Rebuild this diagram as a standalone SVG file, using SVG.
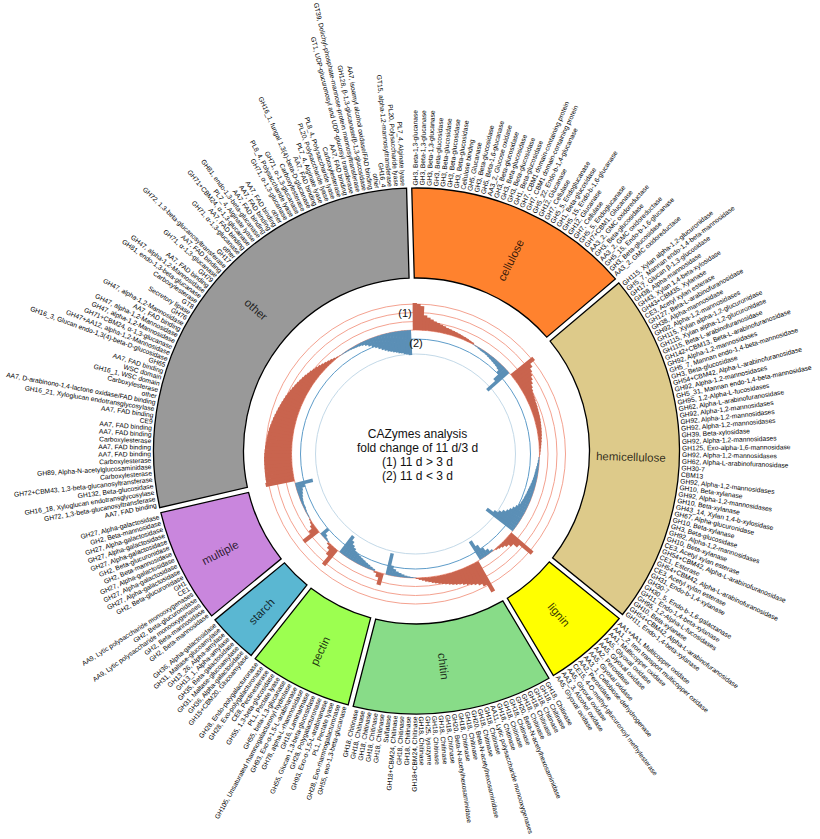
<svg xmlns="http://www.w3.org/2000/svg" width="820" height="839" viewBox="0 0 820 839">
<style>
.sec{stroke:#000;stroke-width:1.3}
.gl{font-family:"Liberation Sans",Arial,sans-serif;font-size:6.7px;fill:#000;dominant-baseline:central}
.l{text-anchor:end}
.sl{font-family:"Liberation Sans",Arial,sans-serif;font-size:11.5px;text-anchor:middle;dominant-baseline:central;fill:#000;fill-opacity:.8}
.ct{font-family:"Liberation Sans",Arial,sans-serif;font-size:12px;text-anchor:middle;fill:#111}
.rb path{stroke:#C9644E;stroke-width:4.3;fill:none}
.bb path{stroke:#5B8FB6;stroke-width:3.5;fill:none}
.gs{fill:none;stroke:#F4A290;stroke-width:1}
</style>
<rect width="820" height="839" fill="#fff"/>
<g id="tracks" transform="translate(415.5,454)">
<g id="grid">
<circle class="gs" r="150"/><circle class="gs" r="141.5"/><circle class="gs" r="132.5"/><circle class="gs" r="124"/>
<circle r="115" fill="none" stroke="#5E9CC9" stroke-width="1"/>
<circle r="100" fill="none" stroke="#C3D9E8" stroke-width="1"/>
</g>
<g id="track1" class="rb">
<path d="M0-124v-27" transform="rotate(-0.28)"/><path d="M0-124v-26" transform="rotate(1.15)"/><path d="M0-124v-24" transform="rotate(2.58)"/><path d="M0-124v-15" transform="rotate(4.01)"/><path d="M0-124v-13" transform="rotate(5.44)"/><path d="M0-124v-11.5" transform="rotate(6.88)"/><path d="M0-124v-10" transform="rotate(8.31)"/><path d="M0-124v-9" transform="rotate(9.74)"/><path d="M0-124v-8" transform="rotate(11.17)"/><path d="M0-124v-7" transform="rotate(12.6)"/><path d="M0-124v-6" transform="rotate(14.03)"/><path d="M0-124v-5.5" transform="rotate(15.47)"/><path d="M0-124v-5" transform="rotate(16.9)"/><path d="M0-124v-4.5" transform="rotate(18.33)"/><path d="M0-124v-4" transform="rotate(19.76)"/><path d="M0-124v-3.5" transform="rotate(21.19)"/><path d="M0-124v-3" transform="rotate(22.62)"/><path d="M0-124v-2.5" transform="rotate(24.05)"/><path d="M0-124v-2" transform="rotate(25.48)"/><path d="M0-124v-1.5" transform="rotate(26.92)"/>
<path d="M0-124v-28" transform="rotate(51.01)"/><path d="M0-124v-22" transform="rotate(52.43)"/><path d="M0-124v-19" transform="rotate(53.85)"/><path d="M0-124v-17" transform="rotate(55.27)"/><path d="M0-124v-15" transform="rotate(56.69)"/><path d="M0-124v-13" transform="rotate(58.11)"/><path d="M0-124v-11" transform="rotate(59.53)"/><path d="M0-124v-9.5" transform="rotate(60.95)"/><path d="M0-124v-8.5" transform="rotate(62.37)"/><path d="M0-124v-8" transform="rotate(63.79)"/><path d="M0-124v-7.5" transform="rotate(65.21)"/><path d="M0-124v-7" transform="rotate(66.63)"/><path d="M0-124v-6.8" transform="rotate(68.05)"/><path d="M0-124v-6.5" transform="rotate(69.47)"/><path d="M0-124v-6.2" transform="rotate(70.89)"/><path d="M0-124v-6" transform="rotate(72.31)"/><path d="M0-124v-5.7" transform="rotate(73.73)"/><path d="M0-124v-5.4" transform="rotate(75.15)"/><path d="M0-124v-5" transform="rotate(76.57)"/><path d="M0-124v-4.6" transform="rotate(77.99)"/><path d="M0-124v-4.2" transform="rotate(79.41)"/><path d="M0-124v-3.8" transform="rotate(80.83)"/><path d="M0-124v-3.3" transform="rotate(82.25)"/><path d="M0-124v-2.8" transform="rotate(83.67)"/><path d="M0-124v-2.3" transform="rotate(85.09)"/><path d="M0-124v-1.8" transform="rotate(86.51)"/><path d="M0-124v-1.3" transform="rotate(87.93)"/><path d="M0-124v-0.9" transform="rotate(89.35)"/><path d="M0-124v-0.5" transform="rotate(90.77)"/>
<path d="M0-124v-29" transform="rotate(130.33)"/><path d="M0-124v-14" transform="rotate(131.79)"/><path d="M0-124v-9" transform="rotate(133.25)"/><path d="M0-124v-6" transform="rotate(134.71)"/><path d="M0-124v-4" transform="rotate(136.18)"/><path d="M0-124v-2.5" transform="rotate(137.64)"/><path d="M0-124v-1.5" transform="rotate(139.1)"/><path d="M0-124v-0.5" transform="rotate(140.56)"/>
<path d="M0-124v-34" transform="rotate(150.51)"/><path d="M0-124v-25" transform="rotate(151.93)"/><path d="M0-124v-22" transform="rotate(153.36)"/><path d="M0-124v-20" transform="rotate(154.78)"/><path d="M0-124v-18.5" transform="rotate(156.2)"/><path d="M0-124v-17" transform="rotate(157.62)"/><path d="M0-124v-15.5" transform="rotate(159.05)"/><path d="M0-124v-14" transform="rotate(160.47)"/><path d="M0-124v-13" transform="rotate(161.89)"/><path d="M0-124v-12" transform="rotate(163.31)"/><path d="M0-124v-11" transform="rotate(164.74)"/><path d="M0-124v-10" transform="rotate(166.16)"/><path d="M0-124v-9" transform="rotate(167.58)"/><path d="M0-124v-8" transform="rotate(169)"/><path d="M0-124v-7" transform="rotate(170.43)"/><path d="M0-124v-6" transform="rotate(171.85)"/><path d="M0-124v-5" transform="rotate(173.27)"/><path d="M0-124v-4" transform="rotate(174.69)"/><path d="M0-124v-3" transform="rotate(176.12)"/><path d="M0-124v-2" transform="rotate(177.54)"/><path d="M0-124v-1" transform="rotate(178.96)"/>
<path d="M0-124v-12" transform="rotate(195.81)"/><path d="M0-124v-5" transform="rotate(197.23)"/><path d="M0-124v-1.5" transform="rotate(198.65)"/>
<path d="M0-124v-20" transform="rotate(219.69)"/><path d="M0-124v-10" transform="rotate(221.06)"/><path d="M0-124v-5" transform="rotate(222.44)"/><path d="M0-124v-2" transform="rotate(223.81)"/>
<path d="M0-124v-18" transform="rotate(231.9)"/><path d="M0-124v-8" transform="rotate(233.3)"/><path d="M0-124v-4" transform="rotate(234.7)"/><path d="M0-124v-2" transform="rotate(236.1)"/><path d="M0-124v-1" transform="rotate(237.5)"/>
<path d="M0-124v-29" transform="rotate(258.31)"/><path d="M0-124v-28" transform="rotate(259.72)"/><path d="M0-124v-28" transform="rotate(261.13)"/><path d="M0-124v-27.8" transform="rotate(262.54)"/><path d="M0-124v-27.7" transform="rotate(263.96)"/><path d="M0-124v-27.6" transform="rotate(265.37)"/><path d="M0-124v-27.6" transform="rotate(266.78)"/><path d="M0-124v-27.5" transform="rotate(268.19)"/><path d="M0-124v-27.3" transform="rotate(269.6)"/><path d="M0-124v-27" transform="rotate(271.01)"/><path d="M0-124v-26.6" transform="rotate(272.42)"/><path d="M0-124v-26.2" transform="rotate(273.83)"/><path d="M0-124v-25.8" transform="rotate(275.25)"/><path d="M0-124v-25.4" transform="rotate(276.66)"/><path d="M0-124v-25" transform="rotate(278.07)"/><path d="M0-124v-24.6" transform="rotate(279.48)"/><path d="M0-124v-24.1" transform="rotate(280.89)"/><path d="M0-124v-23.5" transform="rotate(282.3)"/><path d="M0-124v-22.8" transform="rotate(283.71)"/><path d="M0-124v-22.2" transform="rotate(285.12)"/><path d="M0-124v-21.5" transform="rotate(286.54)"/><path d="M0-124v-20.9" transform="rotate(287.95)"/><path d="M0-124v-20.2" transform="rotate(289.36)"/><path d="M0-124v-19.6" transform="rotate(290.77)"/><path d="M0-124v-18.9" transform="rotate(292.18)"/><path d="M0-124v-18.3" transform="rotate(293.59)"/><path d="M0-124v-17.5" transform="rotate(295)"/><path d="M0-124v-16.7" transform="rotate(296.41)"/><path d="M0-124v-15.9" transform="rotate(297.83)"/><path d="M0-124v-15.1" transform="rotate(299.24)"/><path d="M0-124v-14.3" transform="rotate(300.65)"/><path d="M0-124v-13.5" transform="rotate(302.06)"/><path d="M0-124v-12.6" transform="rotate(303.47)"/><path d="M0-124v-11.8" transform="rotate(304.88)"/><path d="M0-124v-10.9" transform="rotate(306.29)"/><path d="M0-124v-10" transform="rotate(307.7)"/><path d="M0-124v-9" transform="rotate(309.12)"/><path d="M0-124v-8" transform="rotate(310.53)"/><path d="M0-124v-7" transform="rotate(311.94)"/><path d="M0-124v-6" transform="rotate(313.35)"/><path d="M0-124v-5" transform="rotate(314.76)"/><path d="M0-124v-4" transform="rotate(316.17)"/><path d="M0-124v-3" transform="rotate(317.58)"/><path d="M0-124v-2" transform="rotate(319)"/><path d="M0-124v-1" transform="rotate(320.41)"/><path d="M0-124v-0.5" transform="rotate(321.82)"/>
</g>
<g id="track2" class="bb">
<path d="M0-124v0.5" transform="rotate(28.35)"/><path d="M0-124v1" transform="rotate(29.78)"/><path d="M0-124v1.5" transform="rotate(31.21)"/><path d="M0-124v2" transform="rotate(32.64)"/><path d="M0-124v2" transform="rotate(34.07)"/><path d="M0-124v2.5" transform="rotate(35.5)"/><path d="M0-124v3" transform="rotate(36.94)"/><path d="M0-124v3.5" transform="rotate(38.37)"/><path d="M0-124v4" transform="rotate(39.8)"/><path d="M0-124v4.5" transform="rotate(41.23)"/><path d="M0-124v5" transform="rotate(42.66)"/><path d="M0-124v6" transform="rotate(44.09)"/><path d="M0-124v9" transform="rotate(45.52)"/><path d="M0-124v16" transform="rotate(46.96)"/><path d="M0-124v28" transform="rotate(48.39)"/>
<path d="M0-124v1" transform="rotate(92.19)"/><path d="M0-124v1.5" transform="rotate(93.61)"/><path d="M0-124v2" transform="rotate(95.03)"/><path d="M0-124v2.5" transform="rotate(96.45)"/><path d="M0-124v3" transform="rotate(97.87)"/><path d="M0-124v3.3" transform="rotate(99.29)"/><path d="M0-124v3.6" transform="rotate(100.71)"/><path d="M0-124v4" transform="rotate(102.13)"/><path d="M0-124v4.5" transform="rotate(103.55)"/><path d="M0-124v5" transform="rotate(104.97)"/><path d="M0-124v5.5" transform="rotate(106.39)"/><path d="M0-124v6" transform="rotate(107.81)"/><path d="M0-124v6.3" transform="rotate(109.23)"/><path d="M0-124v6.7" transform="rotate(110.65)"/><path d="M0-124v7" transform="rotate(112.07)"/><path d="M0-124v7.5" transform="rotate(113.49)"/><path d="M0-124v8" transform="rotate(114.91)"/><path d="M0-124v9" transform="rotate(116.33)"/><path d="M0-124v11" transform="rotate(117.75)"/><path d="M0-124v13" transform="rotate(119.17)"/><path d="M0-124v15" transform="rotate(120.59)"/><path d="M0-124v17" transform="rotate(122.01)"/><path d="M0-124v20" transform="rotate(123.43)"/><path d="M0-124v23" transform="rotate(124.85)"/><path d="M0-124v27" transform="rotate(126.27)"/><path d="M0-124v34" transform="rotate(127.69)"/>
<path d="M0-124v2" transform="rotate(142.02)"/><path d="M0-124v5" transform="rotate(143.48)"/><path d="M0-124v9" transform="rotate(144.95)"/><path d="M0-124v14" transform="rotate(146.41)"/><path d="M0-124v21" transform="rotate(147.87)"/>
<path d="M0-124v0.5" transform="rotate(180.38)"/><path d="M0-124v1" transform="rotate(181.81)"/><path d="M0-124v1.5" transform="rotate(183.23)"/><path d="M0-124v2" transform="rotate(184.65)"/><path d="M0-124v3" transform="rotate(186.07)"/><path d="M0-124v4" transform="rotate(187.5)"/><path d="M0-124v5" transform="rotate(188.92)"/><path d="M0-124v7" transform="rotate(190.34)"/><path d="M0-124v10" transform="rotate(191.76)"/><path d="M0-124v22" transform="rotate(193.19)"/>
<path d="M0-124v2" transform="rotate(200.07)"/><path d="M0-124v3" transform="rotate(201.49)"/><path d="M0-124v4" transform="rotate(202.9)"/><path d="M0-124v5" transform="rotate(204.32)"/><path d="M0-124v6" transform="rotate(205.74)"/><path d="M0-124v7" transform="rotate(207.16)"/><path d="M0-124v8" transform="rotate(208.58)"/><path d="M0-124v9" transform="rotate(210)"/><path d="M0-124v10" transform="rotate(211.42)"/><path d="M0-124v12" transform="rotate(212.84)"/><path d="M0-124v14" transform="rotate(214.26)"/><path d="M0-124v17" transform="rotate(215.68)"/><path d="M0-124v21" transform="rotate(217.09)"/>
<path d="M0-124v1" transform="rotate(225.19)"/><path d="M0-124v2" transform="rotate(226.56)"/><path d="M0-124v4" transform="rotate(227.94)"/><path d="M0-124v9" transform="rotate(229.31)"/>
<path d="M0-124v0.5" transform="rotate(238.9)"/><path d="M0-124v1" transform="rotate(240.3)"/><path d="M0-124v1" transform="rotate(241.7)"/><path d="M0-124v1.5" transform="rotate(243.1)"/><path d="M0-124v2" transform="rotate(244.5)"/><path d="M0-124v2" transform="rotate(245.9)"/><path d="M0-124v2.5" transform="rotate(247.3)"/><path d="M0-124v3" transform="rotate(248.7)"/><path d="M0-124v4" transform="rotate(250.1)"/><path d="M0-124v5" transform="rotate(251.5)"/><path d="M0-124v6" transform="rotate(252.9)"/><path d="M0-124v9" transform="rotate(254.3)"/><path d="M0-124v18" transform="rotate(255.7)"/>
<path d="M0-124v0.5" transform="rotate(323.23)"/><path d="M0-124v0.8" transform="rotate(324.64)"/><path d="M0-124v1" transform="rotate(326.05)"/><path d="M0-124v1.3" transform="rotate(327.46)"/><path d="M0-124v1.6" transform="rotate(328.87)"/><path d="M0-124v2" transform="rotate(330.29)"/><path d="M0-124v2.4" transform="rotate(331.7)"/><path d="M0-124v2.8" transform="rotate(333.11)"/><path d="M0-124v3.5" transform="rotate(334.52)"/><path d="M0-124v5" transform="rotate(335.93)"/><path d="M0-124v7" transform="rotate(337.34)"/><path d="M0-124v9" transform="rotate(338.75)"/><path d="M0-124v11" transform="rotate(340.17)"/><path d="M0-124v13" transform="rotate(341.58)"/><path d="M0-124v15" transform="rotate(342.99)"/><path d="M0-124v16.5" transform="rotate(344.4)"/><path d="M0-124v18" transform="rotate(345.81)"/><path d="M0-124v19" transform="rotate(347.22)"/><path d="M0-124v20" transform="rotate(348.63)"/><path d="M0-124v21" transform="rotate(350.04)"/><path d="M0-124v22" transform="rotate(351.46)"/><path d="M0-124v22.5" transform="rotate(352.87)"/><path d="M0-124v23.5" transform="rotate(354.28)"/><path d="M0-124v24" transform="rotate(355.69)"/><path d="M0-124v25" transform="rotate(357.1)"/>
</g>
</g>
<g id="track-labels">
<text class="ct" x="405" y="317" style="font-size:11px">(1)</text>
<text class="ct" x="416" y="347" style="font-size:11px">(2)</text>
</g>
<g id="title">
<text class="ct" x="417.5" y="437.7">CAZymes analysis</text>
<text class="ct" x="417.5" y="451.9">fold change of 11 d/3 d</text>
<text class="ct" x="417.5" y="466.1">(1) 11 d &gt; 3 d</text>
<text class="ct" x="417.5" y="480.3">(2) 11 d &lt; 3 d</text>
</g>
<g id="ring" transform="translate(416.5,451)">
<g id="cellulose">
<path class="sec" fill="#FF822E" d="M-4.75,-262.96A263,263 0 0 1 198.89,-172.08L130.25,-113.87A173,173 0 0 0 -2.23,-172.99Z"/>
<text class="sl" transform="rotate(-63.7)" x="213">cellulose</text>
<text class="gl" transform="rotate(-90.26)" x="265.5">GH3, Beta-1,3-glucanase</text>
<text class="gl" transform="rotate(-88.79)" x="265.5">GH3, Beta-1,3-glucanase</text>
<text class="gl" transform="rotate(-87.32)" x="265.5">GH3, Beta-1,3-glucanase</text>
<text class="gl" transform="rotate(-85.84)" x="265.5">GH3, Beta-glucosidase</text>
<text class="gl" transform="rotate(-84.37)" x="265.5">GH3, Beta-glucosidase</text>
<text class="gl" transform="rotate(-82.9)" x="265.5">GH3, Beta-glucosidase</text>
<text class="gl" transform="rotate(-81.42)" x="265.5">GH3, Beta-glucosidase</text>
<text class="gl" transform="rotate(-79.95)" x="265.5">Cellulose binding</text>
<text class="gl" transform="rotate(-78.48)" x="265.5">GH5, Glucanase</text>
<text class="gl" transform="rotate(-77)" x="265.5">GH3, Beta-glucosidase</text>
<text class="gl" transform="rotate(-75.53)" x="265.5">GH5, Beta-1,6-glucanase</text>
<text class="gl" transform="rotate(-74.05)" x="265.5">AA3_2, Glucose oxidase</text>
<text class="gl" transform="rotate(-72.58)" x="265.5">GH3, Beta-glucosidase</text>
<text class="gl" transform="rotate(-71.11)" x="265.5">GH3, Beta-glucosidase</text>
<text class="gl" transform="rotate(-69.63)" x="265.5">GH3, Beta-glucosidase</text>
<text class="gl" transform="rotate(-68.16)" x="265.5">GH1, Beta-glucosidase</text>
<text class="gl" transform="rotate(-66.69)" x="265.5">GH7, CBM1 domain-containing protein</text>
<text class="gl" transform="rotate(-65.21)" x="265.5">GH7, CBM1 domain-containing protein</text>
<text class="gl" transform="rotate(-63.74)" x="265.5">GH5_22, Endo-b-1,4-glucanase</text>
<text class="gl" transform="rotate(-62.27)" x="265.5">GH12, Glucanase</text>
<text class="gl" transform="rotate(-60.79)" x="265.5">GH7, Cellulase</text>
<text class="gl" transform="rotate(-59.32)" x="265.5">GH5_5, Endoglucanase</text>
<text class="gl" transform="rotate(-57.85)" x="265.5">GH1, Beta-glucosidase</text>
<text class="gl" transform="rotate(-56.37)" x="265.5">GH5_15, Endo-b-1,6-glucanase</text>
<text class="gl" transform="rotate(-54.9)" x="265.5">GH12, Glucanase</text>
<text class="gl" transform="rotate(-53.43)" x="265.5">GH7, Cellulase</text>
<text class="gl" transform="rotate(-51.95)" x="265.5">GH5_5, Endoglucanase</text>
<text class="gl" transform="rotate(-50.48)" x="265.5">GH7+CBM1, Glucanase</text>
<text class="gl" transform="rotate(-49.01)" x="265.5">AA3_2, GMC oxidoreductase</text>
<text class="gl" transform="rotate(-47.53)" x="265.5">GH3, Beta-glucosidase</text>
<text class="gl" transform="rotate(-46.06)" x="265.5">AA3_2, GMC oxidoreductase</text>
<text class="gl" transform="rotate(-44.59)" x="265.5">GH5_15, Endo-b-1,6-glucanase</text>
<text class="gl" transform="rotate(-43.11)" x="265.5">GH3, Beta-glucosidase</text>
<text class="gl" transform="rotate(-41.64)" x="265.5">AA3_2, GMC oxidoreductase</text>
</g>
<g id="hemicellulose">
<path class="sec" fill="#DDCA8A" d="M202.25,-168.12A263,263 0 0 1 206.01,163.48L136.07,106.84A173,173 0 0 0 133.61,-109.9Z"/>
<text class="sl" transform="rotate(1.6)" x="214.5">hemicellulose</text>
<text class="gl" transform="rotate(-38.99)" x="265.5">GH115, Xylan alpha-1,2-glucuronidase</text>
<text class="gl" transform="rotate(-37.57)" x="265.5">GH5_7, Mannan endo-1,4-beta-mannosidase</text>
<text class="gl" transform="rotate(-36.15)" x="265.5">GH17, Glucan β-1,3-glucosidase</text>
<text class="gl" transform="rotate(-34.73)" x="265.5">GH38, Alpha-mannosidase</text>
<text class="gl" transform="rotate(-33.31)" x="265.5">GH43, Xylan 1,4-beta-xylosidase</text>
<text class="gl" transform="rotate(-31.89)" x="265.5">GH43+CBM35, Xylanase</text>
<text class="gl" transform="rotate(-30.47)" x="265.5">CE3, Acetyl xylan esterase</text>
<text class="gl" transform="rotate(-29.05)" x="265.5">GH127, Beta-L-arabinofuranosidase</text>
<text class="gl" transform="rotate(-27.63)" x="265.5">GH38, Alpha-mannosidase</text>
<text class="gl" transform="rotate(-26.21)" x="265.5">GH92, Alpha-1,2-mannosidases</text>
<text class="gl" transform="rotate(-24.79)" x="265.5">GH115, Xylan alpha-1,2-glucuronidase</text>
<text class="gl" transform="rotate(-23.37)" x="265.5">GH115, Xylan alpha-1,2-glucuronidase</text>
<text class="gl" transform="rotate(-21.95)" x="265.5">GH115, Beta-L-arabinofuranosidase</text>
<text class="gl" transform="rotate(-20.53)" x="265.5">GH142+CBM13, Beta-L-arabinofuranosidase</text>
<text class="gl" transform="rotate(-19.11)" x="265.5">GH92, Alpha-1,2-mannosidases</text>
<text class="gl" transform="rotate(-17.69)" x="265.5">GH5_7, Mannan endo-1,4-beta-mannosidase</text>
<text class="gl" transform="rotate(-16.27)" x="265.5">GH3, Beta-glucosidase</text>
<text class="gl" transform="rotate(-14.85)" x="265.5">GH54+CBM42, Alpha-L-arabinofuranosidase</text>
<text class="gl" transform="rotate(-13.43)" x="265.5">GH92, Alpha-1,2-mannosidases</text>
<text class="gl" transform="rotate(-12.01)" x="265.5">GH5_31, Mannan endo-1,4-beta-mannosidase</text>
<text class="gl" transform="rotate(-10.59)" x="265.5">GH95, 1,2-Alpha-L-fucosidases</text>
<text class="gl" transform="rotate(-9.17)" x="265.5">GH62, Alpha-L-arabinofuranosidase</text>
<text class="gl" transform="rotate(-7.75)" x="265.5">GH92, Alpha-1,2-mannosidases</text>
<text class="gl" transform="rotate(-6.33)" x="265.5">GH92, Alpha-1,2-mannosidases</text>
<text class="gl" transform="rotate(-4.91)" x="265.5">GH92, Alpha-1,2-mannosidases</text>
<text class="gl" transform="rotate(-3.49)" x="265.5">GH39, Beta-xylosidase</text>
<text class="gl" transform="rotate(-2.07)" x="265.5">GH92, Alpha-1,2-mannosidases</text>
<text class="gl" transform="rotate(-0.65)" x="265.5">GH125, Exo-alpha-1,6-mannosidase</text>
<text class="gl" transform="rotate(0.77)" x="265.5">GH92, Alpha-1,2-mannosidases</text>
<text class="gl" transform="rotate(2.19)" x="265.5">GH62, Alpha-L-arabinofuranosidase</text>
<text class="gl" transform="rotate(3.61)" x="265.5">GH30-7</text>
<text class="gl" transform="rotate(5.03)" x="265.5">CBM13</text>
<text class="gl" transform="rotate(6.45)" x="265.5">GH92, Alpha-1,2-mannosidases</text>
<text class="gl" transform="rotate(7.87)" x="265.5">GH10, Beta-xylanase</text>
<text class="gl" transform="rotate(9.29)" x="265.5">GH92, Alpha-1,2-mannosidases</text>
<text class="gl" transform="rotate(10.71)" x="265.5">GH10, Beta-xylanase</text>
<text class="gl" transform="rotate(12.13)" x="265.5">GH43_14, Xylan 1,4-b-xylosidase</text>
<text class="gl" transform="rotate(13.55)" x="265.5">GH67, Alpha-glucuronidase</text>
<text class="gl" transform="rotate(14.97)" x="265.5">GH10, Beta-xylanase</text>
<text class="gl" transform="rotate(16.39)" x="265.5">GH3, Beta-glucosidase</text>
<text class="gl" transform="rotate(17.81)" x="265.5">GH92, Alpha-1,2-mannosidases</text>
<text class="gl" transform="rotate(19.23)" x="265.5">GH10, Beta-xylanase</text>
<text class="gl" transform="rotate(20.65)" x="265.5">CE3, Acetyl xylan esterase</text>
<text class="gl" transform="rotate(22.07)" x="265.5">GH54+CBM42, Alpha-L-arabinofuranosidase</text>
<text class="gl" transform="rotate(23.49)" x="265.5">CE1, Esterase</text>
<text class="gl" transform="rotate(24.91)" x="265.5">GH54+CBM42, Alpha-L-arabinofuranosidase</text>
<text class="gl" transform="rotate(26.33)" x="265.5">CE3, Acetyl xylan esterase</text>
<text class="gl" transform="rotate(27.75)" x="265.5">GH31, Endo-b-1,4-xylanase</text>
<text class="gl" transform="rotate(29.17)" x="265.5">GH30-7</text>
<text class="gl" transform="rotate(30.59)" x="265.5">GH30_5, Endo-b-1,6-galactanase</text>
<text class="gl" transform="rotate(32.01)" x="265.5">GH11, Endo-1,4-beta-xylanase</text>
<text class="gl" transform="rotate(33.43)" x="265.5">GH95, 1,2-Alpha-L-fucosidases</text>
<text class="gl" transform="rotate(34.85)" x="265.5">GH10, Beta-xylanase</text>
<text class="gl" transform="rotate(36.27)" x="265.5">GH54+CBM42, Alpha-L-arabinofuranosidase</text>
<text class="gl" transform="rotate(37.69)" x="265.5">GH11, Endo-1,4-beta-xylanase</text>
</g>
<g id="lignin">
<path class="sec" fill="#FFFF00" d="M202.74,167.52A263,263 0 0 1 136.89,224.57L90.81,147.25A173,173 0 0 0 132.8,110.88Z"/>
<text class="sl" transform="rotate(49)" x="217">lignin</text>
<text class="gl" transform="rotate(40.33)" x="265.5">AA1+AA1, Multicopper oxidase</text>
<text class="gl" transform="rotate(41.79)" x="265.5">AA1_2, Iron transport multicopper oxidase</text>
<text class="gl" transform="rotate(43.25)" x="265.5">AA1, Multicopper oxidase</text>
<text class="gl" transform="rotate(44.71)" x="265.5">AA5, Glyoxal oxidase</text>
<text class="gl" transform="rotate(46.18)" x="265.5">AA5, Glyoxal oxidase</text>
<text class="gl" transform="rotate(47.64)" x="265.5">AA2, Peroxidase</text>
<text class="gl" transform="rotate(49.1)" x="265.5">AA5, Glyoxal oxidase</text>
<text class="gl" transform="rotate(50.56)" x="265.5">AA3_1, Cellobiose-dehydrogenase</text>
<text class="gl" transform="rotate(52.02)" x="265.5">AA2, Peroxidase</text>
<text class="gl" transform="rotate(53.48)" x="265.5">CE15, 4-O-methyl-glucuronoyl methylesterase</text>
<text class="gl" transform="rotate(54.95)" x="265.5">AA5, Glyoxal oxidase</text>
<text class="gl" transform="rotate(56.41)" x="265.5">AA3_3, Alcohol oxidase</text>
<text class="gl" transform="rotate(57.87)" x="265.5">AA5, Glyoxal oxidase</text>
</g>
<g id="chitin">
<path class="sec" fill="#88DC88" d="M132.43,227.23A263,263 0 0 1 -63.33,255.26L-40.79,168.12A173,173 0 0 0 86.34,149.91Z"/>
<text class="sl" transform="rotate(82.9)" x="217">chitin</text>
<text class="gl" transform="rotate(60.51)" x="265.5">GH18, Chitinase</text>
<text class="gl" transform="rotate(61.93)" x="265.5">GH18, Chitinase</text>
<text class="gl" transform="rotate(63.36)" x="265.5">GH18, Chitinase</text>
<text class="gl" transform="rotate(64.78)" x="265.5">GH18, Chitinase</text>
<text class="gl" transform="rotate(66.2)" x="265.5">GH18, Chitinase</text>
<text class="gl" transform="rotate(67.62)" x="265.5">GH20, Beta-N-acetylhexosaminidase</text>
<text class="gl" transform="rotate(69.05)" x="265.5">GH18, Chitinase</text>
<text class="gl" transform="rotate(70.47)" x="265.5">GH18, Chitinase</text>
<text class="gl" transform="rotate(71.89)" x="265.5">GH18, Chitinase</text>
<text class="gl" transform="rotate(73.31)" x="265.5">AA11, Lytic polysaccharide monooxygenases</text>
<text class="gl" transform="rotate(74.74)" x="265.5">GH18, Chitinase</text>
<text class="gl" transform="rotate(76.16)" x="265.5">GH18, Chitinase</text>
<text class="gl" transform="rotate(77.58)" x="265.5">GH20, Beta-N-acetylhexosaminidase</text>
<text class="gl" transform="rotate(79)" x="265.5">GH18, Chitinase</text>
<text class="gl" transform="rotate(80.43)" x="265.5">GH18, Chitinase</text>
<text class="gl" transform="rotate(81.85)" x="265.5">GH20, Beta-N-acetylhexosaminidase</text>
<text class="gl" transform="rotate(83.27)" x="265.5">GH18, Chitinase</text>
<text class="gl" transform="rotate(84.69)" x="265.5">GH18, Chitinase</text>
<text class="gl" transform="rotate(86.12)" x="265.5">GH18, Chitinase</text>
<text class="gl" transform="rotate(87.54)" x="265.5">GH25, lysozyme</text>
<text class="gl" transform="rotate(88.96)" x="265.5">GH18, Chitinase</text>
<text class="gl l" transform="rotate(-89.62)" x="-265.5">GH18+CBM24, Chitinase</text>
<text class="gl l" transform="rotate(-88.19)" x="-265.5">GH18, Chitinase</text>
<text class="gl l" transform="rotate(-86.77)" x="-265.5">GH18, Chitinase</text>
<text class="gl l" transform="rotate(-85.35)" x="-265.5">GH18+CBM24, Chitinase</text>
<text class="gl l" transform="rotate(-83.93)" x="-265.5">Sulfatase</text>
<text class="gl l" transform="rotate(-82.5)" x="-265.5">GH18, Chitinase</text>
<text class="gl l" transform="rotate(-81.08)" x="-265.5">GH18, Chitinase</text>
<text class="gl l" transform="rotate(-79.66)" x="-265.5">GH18, Chitinase</text>
<text class="gl l" transform="rotate(-78.24)" x="-265.5">GH18, Chitinase</text>
<text class="gl l" transform="rotate(-76.81)" x="-265.5">GH18, Chitinase</text>
</g>
<g id="pectin">
<path class="sec" fill="#9CFF50" d="M-68.36,253.96A263,263 0 0 1 -161.32,207.72L-105.41,137.18A173,173 0 0 0 -45.83,166.82Z"/>
<text class="sl" transform="rotate(-64.3)" x="-222">pectin</text>
<text class="gl l" transform="rotate(-74.19)" x="-265.5">GH55, exo-1,3-beta-glucanase</text>
<text class="gl l" transform="rotate(-72.77)" x="-265.5">GH28, Exo-rhamnogalacturonase</text>
<text class="gl l" transform="rotate(-71.35)" x="-265.5">PL1, Pectate lyase</text>
<text class="gl l" transform="rotate(-69.93)" x="-265.5">GH93, Exo-α-1,5-L-arabinanase</text>
<text class="gl l" transform="rotate(-68.52)" x="-265.5">GH28, Polygalacturonase</text>
<text class="gl l" transform="rotate(-67.1)" x="-265.5">GH55, Glucan 1,3-beta-glucosidase</text>
<text class="gl l" transform="rotate(-65.68)" x="-265.5">GH16, Laminarinase</text>
<text class="gl l" transform="rotate(-64.26)" x="-265.5">GH78, alpha-L-rhamnosidase</text>
<text class="gl l" transform="rotate(-62.84)" x="-265.5">GH93, Exo-α-1,5-L-arabinanase</text>
<text class="gl l" transform="rotate(-61.42)" x="-265.5">GH105, Unsaturated rhamnogalacturonyl hydrolase</text>
<text class="gl l" transform="rotate(-60)" x="-265.5">GH55, beta-1,3-glucanase</text>
<text class="gl l" transform="rotate(-58.58)" x="-265.5">PL1, Pectate lyase</text>
<text class="gl l" transform="rotate(-57.17)" x="-265.5">GH55, 1,3-beta-glucosidase</text>
<text class="gl l" transform="rotate(-55.75)" x="-265.5">CE8, Pectinesterase</text>
<text class="gl l" transform="rotate(-54.33)" x="-265.5">GH28, Exo-polygalacturonase</text>
<text class="gl l" transform="rotate(-52.91)" x="-265.5">GH28, Endo-polygalacturonase</text>
</g>
<g id="starch">
<path class="sec" fill="#5AB7D2" d="M-165.39,204.49A263,263 0 0 1 -201.57,168.93L-132.02,111.81A173,173 0 0 0 -109.48,133.95Z"/>
<text class="sl" transform="rotate(-46)" x="-223">starch</text>
<text class="gl l" transform="rotate(-50.31)" x="-265.5">GH15+CBM20, Glucoamylase</text>
<text class="gl l" transform="rotate(-48.94)" x="-265.5">GH36, Alpha-galactosidase</text>
<text class="gl l" transform="rotate(-47.56)" x="-265.5">GH31, Maltase-glucoamylase</text>
<text class="gl l" transform="rotate(-46.19)" x="-265.5">GH35, Beta-galactosidase</text>
<text class="gl l" transform="rotate(-44.81)" x="-265.5">GH13_1, Alpha-amylase</text>
<text class="gl l" transform="rotate(-43.44)" x="-265.5">GH13_26, Alpha-amylase</text>
<text class="gl l" transform="rotate(-42.06)" x="-265.5">GH31, Maltase-glucoamylase</text>
<text class="gl l" transform="rotate(-40.69)" x="-265.5">GH36, Alpha-galactosidase</text>
</g>
<g id="multiple">
<path class="sec" fill="#C986DD" d="M-204.87,164.92A263,263 0 0 1 -255.66,61.69L-167.96,41.45A173,173 0 0 0 -135.32,107.79Z"/>
<text class="sl" transform="rotate(-27.4)" x="-221">multiple</text>
<text class="gl l" transform="rotate(-38.1)" x="-265.5">GH2, Beta-mannosidase</text>
<text class="gl l" transform="rotate(-36.7)" x="-265.5">GH2, Beta-mannosidase</text>
<text class="gl l" transform="rotate(-35.3)" x="-265.5">AA9, Lytic polysaccharide monooxygenases</text>
<text class="gl l" transform="rotate(-33.9)" x="-265.5">GH2, Beta-glucuronidase</text>
<text class="gl l" transform="rotate(-32.5)" x="-265.5">AA9, Lytic polysaccharide monooxygenases</text>
<text class="gl l" transform="rotate(-31.1)" x="-265.5">CE1</text>
<text class="gl l" transform="rotate(-29.7)" x="-265.5">GH1</text>
<text class="gl l" transform="rotate(-28.3)" x="-265.5">GH2, Beta-glucuronidase</text>
<text class="gl l" transform="rotate(-26.9)" x="-265.5">GH27, Alpha-galactosidase</text>
<text class="gl l" transform="rotate(-25.5)" x="-265.5">GH27, Alpha-galactosidase</text>
<text class="gl l" transform="rotate(-24.1)" x="-265.5">GH27, Alpha-galactosidase</text>
<text class="gl l" transform="rotate(-22.7)" x="-265.5">GH2, Beta-mannosidase</text>
<text class="gl l" transform="rotate(-21.3)" x="-265.5">GH2, Beta-glucuronidase</text>
<text class="gl l" transform="rotate(-19.9)" x="-265.5">GH27, Alpha-galactosidase</text>
<text class="gl l" transform="rotate(-18.5)" x="-265.5">GH27, Alpha-galactosidase</text>
<text class="gl l" transform="rotate(-17.1)" x="-265.5">GH27, Alpha-galactosidase</text>
<text class="gl l" transform="rotate(-15.7)" x="-265.5">GH2, Beta-mannosidase</text>
<text class="gl l" transform="rotate(-14.3)" x="-265.5">GH27, Alpha-galactosidase</text>
</g>
<g id="other">
<path class="sec" fill="#999999" d="M-256.83,56.63A263,263 0 0 1 -9.94,-262.81L-7.43,-172.84A173,173 0 0 0 -169.13,36.38Z"/>
<text class="sl" transform="rotate(41.4)" x="-214">other</text>
<text class="gl l" transform="rotate(-11.7)" x="-265.5">AA7, FAD binding</text>
<text class="gl l" transform="rotate(-10.31)" x="-265.5">GH72, 1,3-beta-glucanosyltransferase</text>
<text class="gl l" transform="rotate(-8.92)" x="-265.5">GH16_18, Xyloglucan endotransglycosylase</text>
<text class="gl l" transform="rotate(-7.52)" x="-265.5">GH132, Beta-glucosidase</text>
<text class="gl l" transform="rotate(-6.13)" x="-265.5">GH72+CBM43, 1,3-beta-glucanosyltransferase</text>
<text class="gl l" transform="rotate(-4.74)" x="-265.5">Carboxylesterase</text>
<text class="gl l" transform="rotate(-3.35)" x="-265.5">GH89, Alpha-N-acetylglucosaminidase</text>
<text class="gl l" transform="rotate(-1.96)" x="-265.5">Carboxylesterase</text>
<text class="gl l" transform="rotate(-0.57)" x="-265.5">AA7, FAD binding</text>
<text class="gl l" transform="rotate(0.83)" x="-265.5">AA7, FAD binding</text>
<text class="gl l" transform="rotate(2.22)" x="-265.5">Carboxylesterase</text>
<text class="gl l" transform="rotate(3.61)" x="-265.5">AA7, FAD binding</text>
<text class="gl l" transform="rotate(5)" x="-265.5">AA7, FAD binding</text>
<text class="gl l" transform="rotate(6.39)" x="-265.5">CE9</text>
<text class="gl l" transform="rotate(7.78)" x="-265.5">AA7, FAD binding</text>
<text class="gl l" transform="rotate(9.18)" x="-265.5">GH16_21, Xyloglucan endotransglycosylase</text>
<text class="gl l" transform="rotate(10.57)" x="-265.5">AA7, D-arabinono-1,4-lactone oxidase/FAD binding</text>
<text class="gl l" transform="rotate(11.96)" x="-265.5">other</text>
<text class="gl l" transform="rotate(13.35)" x="-265.5">Carboxylesterase</text>
<text class="gl l" transform="rotate(14.74)" x="-265.5">GH16_1, WSC domain</text>
<text class="gl l" transform="rotate(16.13)" x="-265.5">WSC domain</text>
<text class="gl l" transform="rotate(17.53)" x="-265.5">AA7, FAD binding</text>
<text class="gl l" transform="rotate(18.92)" x="-265.5">GH65</text>
<text class="gl l" transform="rotate(20.31)" x="-265.5">GH16_3, Glucan endo-1,3(4)-beta-D-glucosidase</text>
<text class="gl l" transform="rotate(21.7)" x="-265.5">GH47+AA12, alpha-1,2-Mannosidase</text>
<text class="gl l" transform="rotate(23.09)" x="-265.5">GH71+CBM24, α-1,3-glucanase</text>
<text class="gl l" transform="rotate(24.48)" x="-265.5">GH47, alpha-1,2-Mannosidase</text>
<text class="gl l" transform="rotate(25.88)" x="-265.5">GH47, alpha-1,2-Mannosidase</text>
<text class="gl l" transform="rotate(27.27)" x="-265.5">AA7, FAD binding</text>
<text class="gl l" transform="rotate(28.66)" x="-265.5">GH47, alpha-1,2-Mannosidase</text>
<text class="gl l" transform="rotate(30.05)" x="-265.5">GH76</text>
<text class="gl l" transform="rotate(31.44)" x="-265.5">Secretory lipase</text>
<text class="gl l" transform="rotate(32.83)" x="-265.5">GT8</text>
<text class="gl l" transform="rotate(34.23)" x="-265.5">Carboxylesterase</text>
<text class="gl l" transform="rotate(35.62)" x="-265.5">GH81, endo-1,3-beta-glucanase</text>
<text class="gl l" transform="rotate(37.01)" x="-265.5">GH47, alpha-1,2-Mannosidase</text>
<text class="gl l" transform="rotate(38.4)" x="-265.5">AA7, FAD binding</text>
<text class="gl l" transform="rotate(39.79)" x="-265.5">GH79</text>
<text class="gl l" transform="rotate(41.18)" x="-265.5">GH71, α-1,3-glucanase</text>
<text class="gl l" transform="rotate(42.58)" x="-265.5">AA7, FAD binding</text>
<text class="gl l" transform="rotate(43.97)" x="-265.5">GH72, 1,3-beta-glucanosyltransferase</text>
<text class="gl l" transform="rotate(45.36)" x="-265.5">GH17</text>
<text class="gl l" transform="rotate(46.75)" x="-265.5">other</text>
<text class="gl l" transform="rotate(48.14)" x="-265.5">GH71, α-1,3-glucanase</text>
<text class="gl l" transform="rotate(49.53)" x="-265.5">AA7, FAD binding</text>
<text class="gl l" transform="rotate(50.93)" x="-265.5">GH71+CBM24, α-1,3-glucanase</text>
<text class="gl l" transform="rotate(52.32)" x="-265.5">PL7_4, Alginate lyase</text>
<text class="gl l" transform="rotate(53.71)" x="-265.5">GH81, endo-1,3-beta-glucanase</text>
<text class="gl l" transform="rotate(55.1)" x="-265.5">AA7, FAD binding</text>
<text class="gl l" transform="rotate(56.49)" x="-265.5">AA7, FAD binding</text>
<text class="gl l" transform="rotate(57.88)" x="-265.5">AA7, FAD binding</text>
<text class="gl l" transform="rotate(59.28)" x="-265.5">other</text>
<text class="gl l" transform="rotate(60.67)" x="-265.5">GH71, α-1,3-glucanase</text>
<text class="gl l" transform="rotate(62.06)" x="-265.5">PL8_4, Polysaccharide lyase</text>
<text class="gl l" transform="rotate(63.45)" x="-265.5">GH71, α-1,3-glucanase</text>
<text class="gl l" transform="rotate(64.84)" x="-265.5">Carboxylesterase</text>
<text class="gl l" transform="rotate(66.23)" x="-265.5">GH16_1, fungal 1,3(4)-beta-D-glucanase</text>
<text class="gl l" transform="rotate(67.63)" x="-265.5">AA7, FAD binding</text>
<text class="gl l" transform="rotate(69.02)" x="-265.5">PL7_4, Alginate lyase</text>
<text class="gl l" transform="rotate(70.41)" x="-265.5">PL20, Polysaccharide lyase</text>
<text class="gl l" transform="rotate(71.8)" x="-265.5">PL8_4, Polysaccharide lyase</text>
<text class="gl l" transform="rotate(73.19)" x="-265.5">Carboxylesterase</text>
<text class="gl l" transform="rotate(74.58)" x="-265.5">AA7, FAD binding</text>
<text class="gl l" transform="rotate(75.98)" x="-265.5">GT1, UDP-glucuronosyl and UDP-glucosyl transferase</text>
<text class="gl l" transform="rotate(77.37)" x="-265.5">GT39, Dolichyl-phosphate-mannose-protein mannosyltransferase</text>
<text class="gl l" transform="rotate(78.76)" x="-265.5">GH128, β-1,3-glucanase/β-1,3-glucosidase</text>
<text class="gl l" transform="rotate(80.15)" x="-265.5">AA7, isoamyl alcohol oxidase/FAD binding</text>
<text class="gl l" transform="rotate(81.54)" x="-265.5">other</text>
<text class="gl l" transform="rotate(82.93)" x="-265.5">GH16_4</text>
<text class="gl l" transform="rotate(84.33)" x="-265.5">GT15, alpha-1,2-mannosyltransferase</text>
<text class="gl l" transform="rotate(85.72)" x="-265.5">PL20, Polysaccharide lyase</text>
<text class="gl l" transform="rotate(87.11)" x="-265.5">PL7_4, Alginate lyase</text>
</g>
</g>
</svg>
